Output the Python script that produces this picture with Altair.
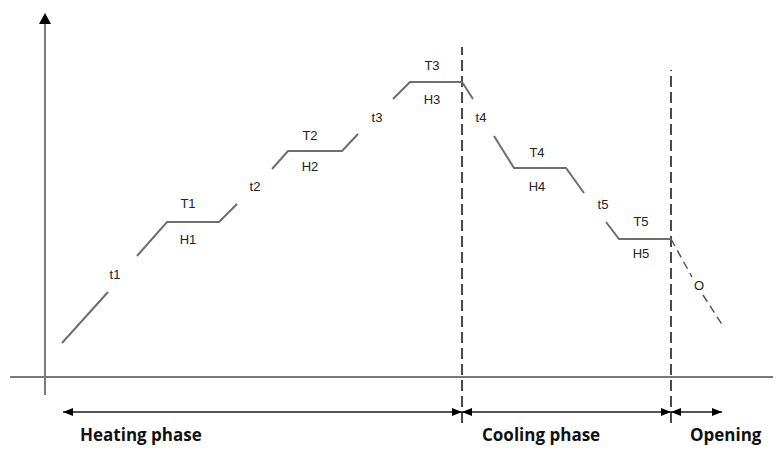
import altair as alt
import pandas as pd

# ---- data (diagram units: x = time from the vertical axis, y = temperature above the time axis)
prof_seg = [1, 1, 2, 2, 2, 2, 3, 3, 3, 3, 4, 4, 4, 4, 5, 5, 5, 5, 6, 6, 6]
prof_x = [17, 63, 92, 122, 174, 192, 227, 243, 297, 313, 348, 365, 417, 428, 449, 469, 521, 539, 561, 574, 626]
prof_y = [34, 85, 121, 155, 155, 173, 208, 226, 226, 243, 278, 295, 295, 278, 241, 209, 209, 184, 155, 138, 138]

open_seg = [1, 1, 2, 2]
open_x = [626, 647, 658, 678]
open_y = [138, 100, 82, 51]

label_text = ["t1", "T1", "H1", "t2", "T2", "H2", "t3", "T3", "H3", "t4", "T4", "H4", "t5", "T5", "H5", "O"]
label_x = [70, 143, 143, 210, 265, 265, 332, 387, 387, 436, 492, 492, 558, 596, 596, 654]
label_y = [102, 173, 137, 190, 241, 210, 259, 311, 277, 259, 224, 190, 172, 155, 123, 91]

phase_names = ["Heating phase", "Cooling phase", "Opening"]
phase_start = [18, 417, 626]
phase_end = [417, 626, 677]
phase_label_x = [35, 437, 645]
phase_row = -35
phase_label_row = -64

divider_x = [417, 626]
divider_top = [330, 307]
divider_bottom = -46

# axes of the diagram
axis_x0, axis_x1 = -35, 728
axis_y0, axis_y1, axis_tip = -18, 353, 364

X_DOMAIN = [-37, 728]
Y_DOMAIN = [-68, 369]
W, H = 765, 437

xs = alt.Scale(domain=X_DOMAIN, nice=False, zero=False)
ys = alt.Scale(domain=Y_DOMAIN, nice=False, zero=False)


def X(f="x"):
    return alt.X(f"{f}:Q", scale=xs, axis=None)


def Y(f="y"):
    return alt.Y(f"{f}:Q", scale=ys, axis=None)


prof_df = pd.DataFrame({"seg": prof_seg, "x": prof_x, "y": prof_y, "o": range(len(prof_x))})
open_df = pd.DataFrame({"seg": open_seg, "x": open_x, "y": open_y, "o": range(len(open_x))})
lab_df = pd.DataFrame({"t": label_text, "x": label_x, "y": label_y})

axes_df = pd.DataFrame({
    "x": [axis_x0, 0], "x2": [axis_x1, 0],
    "y": [0, axis_y0], "y2": [0, axis_y1],
})
div_df = pd.DataFrame({"x": divider_x, "y": [divider_bottom] * 2, "y2": divider_top})
ph_df = pd.DataFrame({"x": phase_start, "x2": phase_end, "y": [phase_row] * 3})
left_heads = pd.DataFrame({"x": phase_start, "y": [phase_row] * 3})
right_heads = pd.DataFrame({"x": phase_end, "y": [phase_row] * 3})
up_head = pd.DataFrame({"x": [0], "y": [axis_tip]})
ph_lab = pd.DataFrame({"t": phase_names, "x": phase_label_x, "y": [phase_label_row] * 3})

axes = alt.Chart(axes_df).mark_rule(color="#7a7a7a", strokeWidth=2).encode(
    x=X(), x2="x2:Q", y=Y(), y2="y2:Q")

dividers = alt.Chart(div_df).mark_rule(color="#4a4a4a", strokeWidth=2, strokeDash=[11, 5]).encode(
    x=X(), y=Y(), y2="y2:Q")

profile = alt.Chart(prof_df).mark_line(color="#6e6e6e", strokeWidth=2).encode(
    x=X(), y=Y(), detail="seg:N", order="o:Q")

opening = alt.Chart(open_df).mark_line(color="#555555", strokeWidth=1.5, strokeDash=[8, 5]).encode(
    x=X(), y=Y(), detail="seg:N", order="o:Q")

phase_lines = alt.Chart(ph_df).mark_rule(color="#1a1a1a", strokeWidth=1.5).encode(
    x=X(), x2="x2:Q", y=Y())

lh = alt.Chart(left_heads).mark_point(shape="M0,0L2,-0.8L2,0.8Z", filled=True, size=100,
                                      color="#000000", opacity=1, strokeWidth=0).encode(x=X(), y=Y())
rh = alt.Chart(right_heads).mark_point(shape="M0,0L-2,-0.8L-2,0.8Z", filled=True, size=100,
                                       color="#000000", opacity=1, strokeWidth=0).encode(x=X(), y=Y())
uh = alt.Chart(up_head).mark_point(shape="M0,0L1.2,2.2L-1.2,2.2Z", filled=True, size=100,
                                   color="#000000", opacity=1, strokeWidth=0).encode(x=X(), y=Y())

labels = alt.Chart(lab_df).mark_text(font="Liberation Sans", fontSize=13, color="#222222",
                                     align="center", baseline="middle").encode(x=X(), y=Y(), text="t:N")

phase_labels = alt.Chart(ph_lab).mark_text(font="Open Sans", fontSize=17, fontWeight="bold",
                                           color="#111111", align="left", baseline="alphabetic").encode(
    x=X(), y=Y(), text="t:N")

chart = alt.layer(axes, dividers, profile, opening, phase_lines, lh, rh, uh, labels, phase_labels).properties(
    width=W, height=H, padding=0, autosize=alt.AutoSizeParams(type="none")
).configure_view(stroke=None)

chart.save("out.html", embed_options={"renderer": "svg", "actions": False})
